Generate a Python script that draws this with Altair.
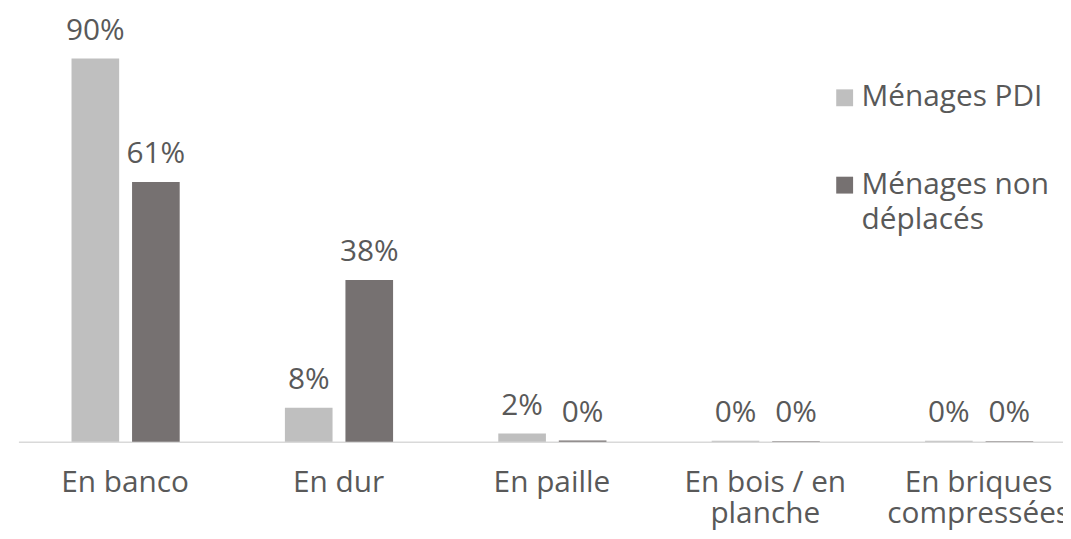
import altair as alt
import pandas as pd

categories = ["En banco", "En dur", "En paille", "En bois / en planche", "En briques compressées"]
category_lines = [["En banco"], ["En dur"], ["En paille"], ["En bois / en", "planche"], ["En briques", "compressées"]]
series = ["Ménages PDI", "Ménages non déplacés"]
series_lines = [["Ménages PDI"], ["Ménages non", "déplacés"]]
pdi = [90, 8, 1.9, 0.2, 0.2]
non_deplaces = [61, 38, 0.3, 0.1, 0.1]
colors = ["#BFBFBF", "#767171"]

rows = []
for c, a, b in zip(categories, pdi, non_deplaces):
    rows.append({"category": c, "series": series[0], "value": a})
    rows.append({"category": c, "series": series[1], "value": b})
df = pd.DataFrame(rows)


def wrap_expr(values, lines):
    expr = "datum.label"
    for v, l in zip(values, lines):
        if len(l) > 1:
            arr = "[" + ", ".join("'" + s + "'" for s in l) + "]"
            expr = f"datum.label == '{v}' ? {arr} : ({expr})"
    return expr


FONT = "Open Sans"
TXT = "#595959"
FS = 30

x = alt.X(
    "category:N",
    sort=categories,
    scale=alt.Scale(range=[10.5, 1085.5], paddingInner=0, paddingOuter=0),
    axis=alt.Axis(
        title=None,
        labelAngle=0,
        ticks=False,
        domainColor="#D9D9D9",
        domainWidth=1.5,
        labelFont=FONT,
        labelFontSize=FS,
        labelColor=TXT,
        labelPadding=26,
        labelLineHeight=31,
        labelLimit=400,
        labelOverlap=False,
        labelExpr=wrap_expr(categories, category_lines),
    ),
)
xoff = alt.XOffset(
    "series:N",
    sort=series,
    scale=alt.Scale(range=[53.5, 162.5], paddingInner=0.213, paddingOuter=0),
)
y = alt.Y("value:Q", scale=alt.Scale(domain=[0, 100]), axis=None)

color = alt.Color(
    "series:N",
    sort=series,
    scale=alt.Scale(domain=series, range=colors),
    legend=alt.Legend(
        title=None,
        orient="none",
        legendX=828,
        legendY=76,
        symbolType="M-1,-2H1V0H-1Z",
        symbolSize=289,
        symbolStrokeWidth=0,
        symbolOpacity=1,
        labelFont=FONT,
        labelFontSize=FS,
        labelColor=TXT,
        labelOffset=2,
        labelLimit=400,
        labelBaseline="alphabetic",
        rowPadding=58,
        padding=0,
        labelExpr=wrap_expr(series, series_lines),
    ),
)

base = alt.Chart(df).encode(x=x, xOffset=xoff, y=y)

bars = base.mark_bar().encode(color=color)

labels = base.transform_calculate(
    lbl="format(datum.value, '.0f') + '%'"
).mark_text(
    baseline="alphabetic", dy=-19, fontSize=FS, font=FONT, color=TXT
).encode(text="lbl:N")

chart = (
    alt.layer(bars, labels)
    .properties(
        width=1063,
        height=429,
        autosize=alt.AutoSizeParams(type="none"),
        padding={"left": 0, "top": 6, "right": 0, "bottom": 88},
    )
    .configure(style={"guide-label": {"lineHeight": 36}})
    .configure_view(strokeWidth=0)
)

chart.save("out.html", embed_options={"renderer": "svg", "actions": False})
